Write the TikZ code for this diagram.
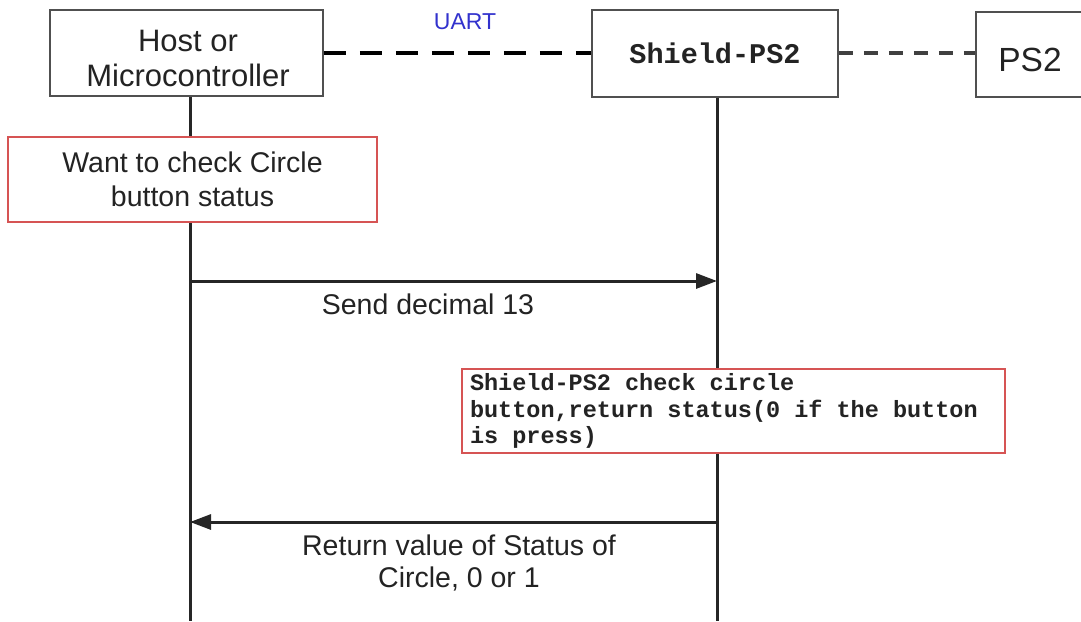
\documentclass[tikz,border=0pt]{standalone}
\usepackage{fontspec}
\setmainfont{Liberation Sans}
\newfontfamily\monof{Liberation Mono}
\usetikzlibrary{arrows.meta}
\definecolor{boxgray}{RGB}{80,80,80}
\definecolor{notered}{RGB}{214,84,84}
\definecolor{uartblue}{RGB}{50,50,205}
\definecolor{inkgray}{RGB}{35,35,35}
\newcommand\msp{\hspace*{0.6em}}
\begin{document}
\begin{tikzpicture}[x=1pt,y=-1pt,
  actor/.style={draw=boxgray, line width=1.5pt, fill=white, inner sep=0pt,
    align=center, text=inkgray, font=\fontsize{31}{35}\selectfont},
  note/.style={draw=notered, line width=1.5pt, fill=white, inner sep=0pt,
    text=inkgray},
  life/.style={draw=black!85, line width=3pt},
  msg/.style={draw=black!85, line width=3pt,
    -{Triangle[length=21pt,width=15pt]}},
  lbl/.style={text=inkgray, align=center, inner sep=0pt,
    font=\fontsize{28.5}{32}\selectfont}]
\useasboundingbox (0,0) rectangle (1081,621);
\clip (0,0) rectangle (1081,621);
% coordinates for lifelines
\coordinate (hBot) at (190,621);
\coordinate (sBot) at (717,621);
% actors
\node[actor, minimum width=273pt, minimum height=86pt] (host) at (186.5,53) {};
\node[lbl, font=\fontsize{31}{35}\selectfont] (hostt) at (188,58) {Host or\\Microcontroller};
\node[actor, minimum width=246pt, minimum height=87pt, font=\monof\bfseries\fontsize{28.5}{32}\selectfont] (shield) at (715,53.5) {Shield-PS2};
\node[actor, minimum width=140pt, minimum height=85pt] (ps2) at (1046,54.5) {};
\node[lbl, font=\fontsize{33.5}{38}\selectfont] (ps2t) at (1030,60) {PS2};
% connections between actors
\draw[draw=black, line width=4pt, dash pattern=on 22pt off 14pt] (host.east |- 0,53) -- (shield.west |- 0,53);
\draw[draw=black!75, line width=3.2pt, dash pattern=on 14pt off 11pt] (shield.east |- 0,53) -- (ps2.west |- 0,53);
\node[lbl, text=uartblue, font=\fontsize{23}{26}\selectfont] (uart) at (465,22) {UART};
% lifelines
\draw[life] (host.south -| hBot) -- (hBot);
\draw[life] (shield.south -| sBot) -- (sBot);
% note 1
\node[note, minimum width=369pt, minimum height=85pt, align=center,
  font=\fontsize{28.5}{34}\selectfont] (n1) at (192.5,179.5) {Want to check Circle\\button status};
% message 1
\coordinate (m1a) at (190,281);
\coordinate (m1b) at (717,281);
\draw[msg] (m1a) -- (m1b);
\node[lbl] (m1l) at (428,304) {Send decimal 13};
% note 2
\node[note, minimum width=543pt, minimum height=84pt, text width=527pt,
  align=left, font=\monof\bfseries\fontsize{23.5}{26.5}\selectfont] (n2) at (733.5,411) {Shield-PS2\msp check\msp circle\\button,return\msp status(0\msp if\msp the\msp button\\is\msp press)};
% message 2
\coordinate (m2a) at (717,522);
\coordinate (m2b) at (190,522);
\draw[msg] (m2a) -- (m2b);
\node[lbl] (m2l) at (459,563) {Return value of Status of\\Circle, 0 or 1};
\end{tikzpicture}
\end{document}
